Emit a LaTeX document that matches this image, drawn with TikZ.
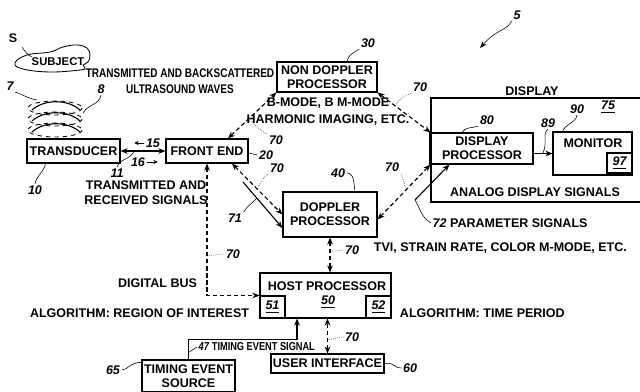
\documentclass[tikz,border=0pt]{standalone}
\usepackage{fontspec}
\setmainfont{Liberation Sans}
\usetikzlibrary{arrows.meta,calc}

\tikzset{
	blk/.style={draw, thick, align=center, inner sep=0pt},
	bus/.style={thick, dash pattern=on 3pt off 2pt, {Stealth[length=5pt,width=4pt]}-{Stealth[length=5pt,width=4pt]}},
	sig/.style={thick, -{Stealth[length=5pt,width=4pt]}},
	lead/.style={thin},
	dlead/.style={thin, densely dotted},
	num/.style={font=\fontsize{8.9}{10}\selectfont\bfseries\itshape, inner sep=1pt},
}
\newcommand{\narrow}[1]{\scalebox{0.8}[1]{#1}}

\begin{document}
\begin{tikzpicture}[x=0.025cm, y=-0.025cm, font=\fontsize{8.9}{10}\selectfont\bfseries]
		\useasboundingbox (0,0) rectangle (640,392);

		\node[blk, minimum width=2.325cm, minimum height=0.6cm] (trans) at (73.5,151) {TRANSDUCER};
		\node[blk, minimum width=2.05cm, minimum height=0.6cm] (front) at (207,151) {FRONT END};
		\node[blk, minimum width=2.5cm, minimum height=0.75cm] (nondop) at (327,77) {NON DOPPLER\\PROCESSOR};
		\node[blk, minimum width=2.35cm, minimum height=1.125cm] (dop) at (330,214.5) {DOPPLER\\PROCESSOR};
		\node[blk, minimum width=3.275cm, minimum height=1.125cm] (host) at (325.5,295.5) {};
		\node (hostT) at (327,286) {HOST PROCESSOR};
		\node[num] (l50) at (328,302) {\underline{50}};
		\node[blk, minimum width=0.625cm, minimum height=0.55cm, num] (b51) at (272.5,307) {\underline{51}};
		\node[blk, minimum width=0.625cm, minimum height=0.55cm, num] (b52) at (378.5,307) {\underline{52}};
		\node[blk, minimum width=2.825cm, minimum height=0.475cm] (user) at (327.5,363.5) {USER INTERFACE};
		\node[blk, minimum width=2.325cm, minimum height=0.8cm] (tim) at (188.5,376) {TIMING EVENT\\SOURCE};
		\node[blk, minimum width=2.55cm, minimum height=0.775cm] (disp) at (482,148.5) {DISPLAY\\PROCESSOR};
		\node[blk, minimum width=1.975cm, minimum height=1.075cm] (mon) at (592.5,153.5) {};
		\node (monT) at (593,143) {MONITOR};
		\node[blk, minimum width=0.625cm, minimum height=0.5cm, num] (b97) at (619.5,163) {\underline{97}};

		\draw[thick] (641,98) -| (431,202) -- (641,202);
		\draw[line width=2pt] (disp.north west) -- (disp.south west);
		\node (dispL) at (532,91) {DISPLAY};
		\node[num] (l75) at (608,107) {\underline{75}};
		\node (analog) at (535,192) {ANALOG DISPLAY SIGNALS};

		\draw[semithick] plot[smooth cycle, tension=0.7] coordinates {(15,63) (27,55) (50,52) (63,47) (77,45) (87,48) (90,55) (88,62) (83,65) (85,68) (80,70) (50,72) (23,69)};
		\node[font=\fontsize{8}{9}\selectfont\bfseries] (subj) at (58,62) {SUBJECT};
		\node (lS) at (13,38) {S};
		\draw[lead] (lS.south east) to[out=-50,in=160] (32,57);
		\foreach \i in {0,1,2} {
			\draw[semithick, dashed] (55,{108+11*\i}) ellipse [x radius=27, y radius=7];
			\draw[thick] (32,{110+11*\i}) .. controls (44,{99+11*\i}) and (68,{99+11*\i}) .. (80,{110+11*\i});
		}
		\node[num] (l7) at (10,86) {7};
		\draw[lead] (l7.south east) to[out=-20,in=170] (37,100);
		\node[num] (l8) at (101,89) {8};
		\draw[lead] (l8.south) to[out=-100,in=60] (83,113);
		\node[align=center, font=\fontsize{8.9}{11.4}\selectfont\bfseries] (waves) at (180,81) {\narrow{TRANSMITTED AND BACKSCATTERED}\\\narrow{ULTRASOUND WAVES}};

		\draw[thick, {Stealth[length=5pt,width=4pt]}-{Stealth[length=5pt,width=4pt]}] (trans.east) -- coordinate[pos=0.3] (p11) (trans.east -| front.west);
		\node[num] (l15) at (153,143) {15};
		\draw[thin, -{Stealth[length=3pt,width=3pt]}] (l15.west) -- ++(-10,0);
		\node[num] (l16) at (138,162) {16};
		\draw[thin, -{Stealth[length=3pt,width=3pt]}] (l16.east) -- ++(11,0);
		\node[num] (l11) at (117,173) {11};
		\draw[lead] (l11.north) to[out=70,in=-110] (p11);
		\node[num] (l10) at (35,190) {10};
		\draw[lead] (l10.north) to[out=80,in=-100] ($(trans.south)+(-28,0)$);
		\node[num] (l20) at (266,155) {20};
		\draw[lead] ($(front.east)+(0,2)$) to[out=0,in=180] (l20.west);
		\node[align=center, font=\fontsize{8.9}{10.6}\selectfont\bfseries] (sigs) at (146,193) {TRANSMITTED AND\\RECEIVED SIGNALS};

		\node[num] (l30) at (368,43) {30};
		\draw[lead] (l30.south west) to[out=-150,in=80] ($(nondop.north)+(20,0)$);
		\node[align=center, font=\fontsize{8.9}{12}\selectfont\bfseries] (modes) at (328,111.5) {B-MODE, B M-MODE\\HARMONIC IMAGING, ETC.};
		\node[num] (l40) at (338,173) {40};
		\draw[lead] (l40.east) to[out=0,in=100] ($(dop.north)+(25,0)$);
		\node[num] (l80) at (487,120) {80};
		\draw[lead] (l80.south west) to[out=-160,in=60] ($(disp.north)+(-20,0)$);
		\node[num] (l90) at (577,109) {90};
		\draw[lead] (l90.south) to[out=-100,in=70] ($(mon.north)+(-30,0)$);

		\draw[sig] (disp.east |- mon.west) -- coordinate[pos=0.5] (p89) (mon.west);
		\node[num] (l89) at (548,123) {89};
		\draw[lead] (l89.south) .. controls (542,134) and (548,140) .. (p89);

		\draw[bus] ($(front.north)+(21,0)$) -- coordinate[pos=0.4] (m1) (nondop.south west);
		\node[num] (l70a) at (276,140) {70};
		\draw[dlead] (m1) to[out=-20,in=160] (l70a.north west);
		\draw[bus] (nondop.south east) -- coordinate[pos=0.33] (m2) (disp.north west);
		\node[num] (l70b) at (420,87) {70};
		\draw[dlead] (m2) to[out=60,in=-160] (l70b.south west);
		\draw[bus] ($(front.south)+(25,0)$) -- coordinate[pos=0.5] (m3) (dop.west);
		\node[num] (l70c) at (277,168) {70};
		\draw[dlead] (m3) to[out=60,in=-150] (l70c.south west);
		\draw[bus] ($(dop.east)+(0,5)$) -- coordinate[pos=0.55] (m4) (disp.south west);
		\node[num] (l70d) at (392,167) {70};
		\draw[dlead] (m4) to[out=120,in=-60] (l70d.south east);
		\draw[bus] (dop.south) -- coordinate[pos=0.4] (m5) (dop.south |- host.north);
		\node[num] (l70e) at (352,250) {70};
		\draw[dlead] (m5) to[out=0,in=180] (l70e.west);
		\draw[bus] (front.south) |- coordinate[pos=0.35] (m6) (host.west);
		\node[num] (l70f) at (233,254) {70};
		\draw[dlead] (m6) to[out=0,in=180] (l70f.west);
		\draw[bus] (user.north) -- coordinate[pos=0.4] (m7) (user.north |- host.south);
		\node[num] (l70g) at (352,337) {70};
		\draw[dlead] (m7) to[out=0,in=180] (l70g.west);

		\coordinate (c71) at (243,182);
		\draw[sig] (c71) -- coordinate[pos=0.35] (p71) ($(dop.west)+(0,13.5)$);
		\node[num] (l71) at (235,218) {71};
		\draw[lead] (l71.north east) to[out=60,in=-130] (p71);
		\coordinate (c72) at (415,200);
		\draw[sig] (c72) -- ($(disp.south west)+(19,0)$);
		\node[anchor=west, inner sep=1pt] (par) at (431,223) {\textit{72} PARAMETER SIGNALS};
		\draw[lead] (par.west) to[out=150,in=-60] (c72);
		\node[anchor=west] (tvi) at (369,248) {TVI, STRAIN RATE, COLOR M-MODE, ETC.};

		\node[anchor=east] (bus) at (202,283) {DIGITAL BUS};
		\node[anchor=east] (roi) at (254,313) {ALGORITHM: REGION OF INTEREST};
		\node[anchor=west] (tp) at (395,313) {ALGORITHM: TIME PERIOD};

		\coordinate (tev) at ($(host.south)+(-28.5,0)$);
		\draw[sig] (tim.north) |- ($(tev)+(0,21)$) -- (tev);
		\node[anchor=west, inner sep=1pt, font=\fontsize{8.2}{9}\selectfont\bfseries] (l47) at (197,347) {\narrow{\textit{47} TIMING EVENT SIGNAL}};
		\draw[lead] (l47.west) to[out=-160,in=20] ($(tim.north)+(0,-7)$);
		\node[num] (l65) at (113,370) {65};
		\draw[lead] (l65.east) .. controls (128,370) and (130,362) .. ($(tim.north west)+(0,3)$);
		\node[num] (l60) at (410,368) {60};
		\draw[lead] (user.east) .. controls (395,362) and (395,369) .. (l60.west);

		\node[num] (l5) at (517,15) {5};
		\coordinate (c5) at (480,48);
		\draw[thin, -{Stealth[length=5pt,width=3.5pt]}] (l5.south west) .. controls (505,32) and (498,28) .. (c5);
	\end{tikzpicture}
\end{document}
